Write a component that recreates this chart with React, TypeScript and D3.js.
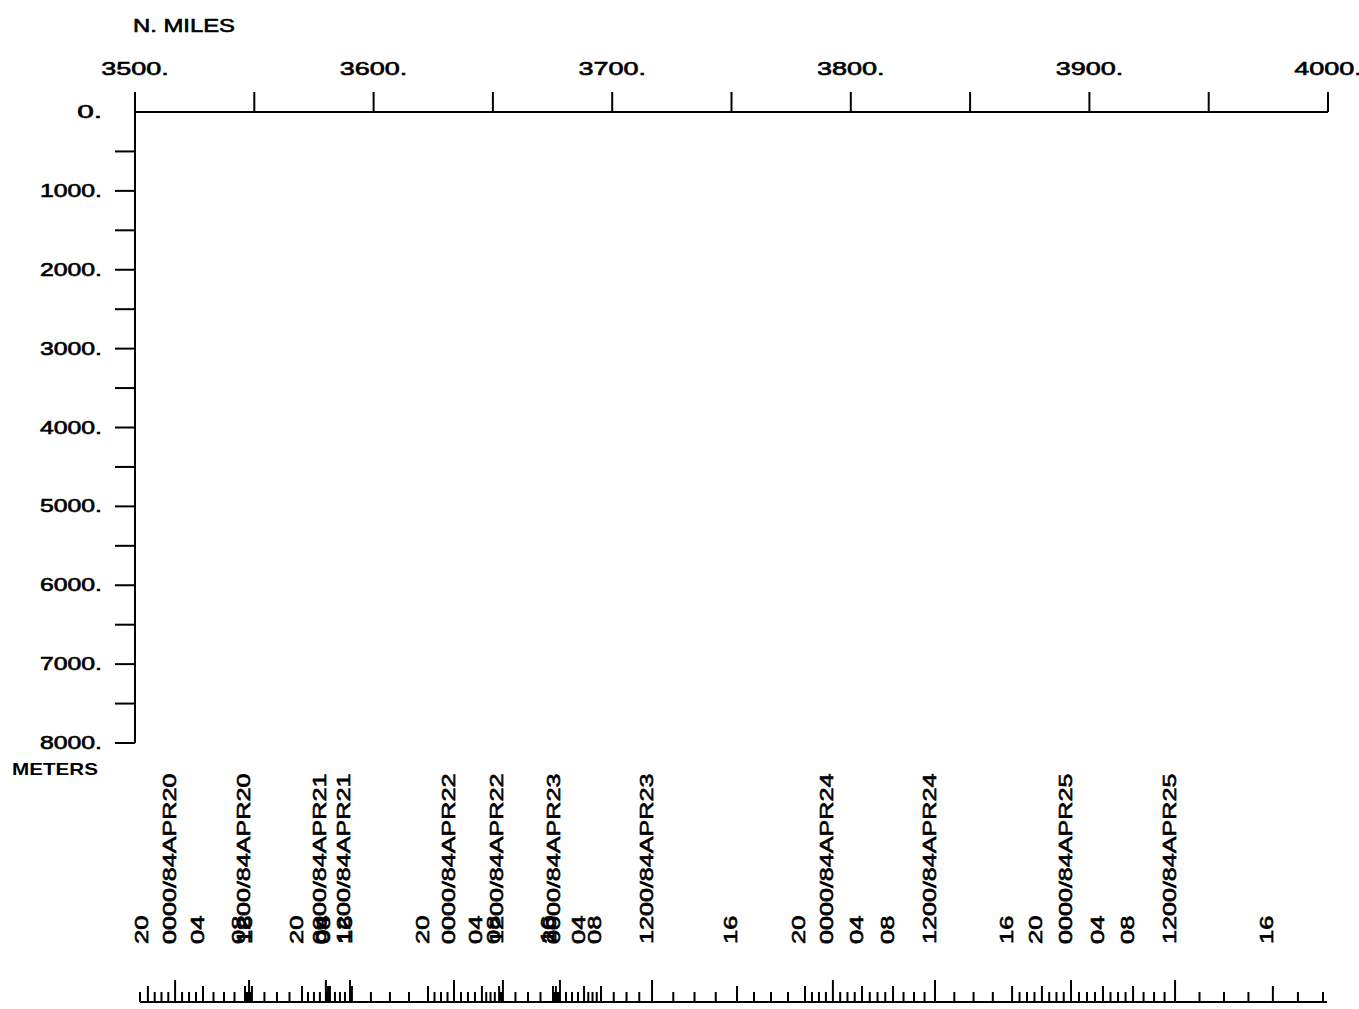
import React from "react";
import * as d3 from "d3";

// Top axis (distance along track, nautical miles)
const milesDomain = [3500, 4000];
const milesMajorTicks = [3500, 3600, 3700, 3800, 3900, 4000];
const milesMinorTicks = [3550, 3650, 3750, 3850, 3950];

// Left axis (depth, meters)
const depthDomain = [0, 8000];
const depthMajorTicks = [0, 1000, 2000, 3000, 4000, 5000, 6000, 7000, 8000];
const depthMinorTicks = [500, 1500, 2500, 3500, 4500, 5500, 6500, 7500];

// Ship track: hours since 0000 APR20 (1984) vs distance along track (N. miles)
const trackHours = [-5, -4, 0, 4, 8, 12, 16, 20, 24, 28, 32, 36, 40, 44, 48, 52, 56, 60, 64, 68, 72, 76, 80, 84, 88, 92, 96, 100, 104, 108, 112, 116, 120, 124, 128, 132, 136, 138];
const trackMiles = [3502.1, 3505.4, 3516.8, 3528.5, 3546.1, 3547.8, 3549.0, 3570.0, 3580.0, 3580.9, 3581.7, 3590.1, 3590.9, 3622.8, 3633.7, 3645.4, 3652.6, 3654.2, 3675.2, 3676.4, 3678.1, 3688.2, 3695.3, 3716.7, 3752.3, 3780.8, 3792.5, 3804.7, 3817.7, 3835.3, 3867.6, 3880.1, 3892.3, 3905.7, 3918.3, 3935.9, 3976.9, 3997.9];

const W = 1359;
const H = 1009;
const FONT = "'Liberation Sans', Arial, sans-serif";

const xScale = d3.scaleLinear().domain(milesDomain).range([135, 1328]);
const yScale = d3.scaleLinear().domain(depthDomain).range([112, 743]);
const timeToMiles = d3.scaleLinear().domain(trackHours).range(trackMiles);

const pad2 = (n: number) => (n < 10 ? "0" + n : "" + n);
function timeLabel(h: number): string {
  const hh = ((h % 24) + 24) % 24;
  const day = 20 + Math.floor(h / 24);
  if (hh % 12 === 0) return `${pad2(hh)}00/84APR${day}`;
  return pad2(hh);
}

export default function App() {
  const axisY = yScale(0);
  const axisX = xScale(3500);
  const tickLen = 20;

  const hours = d3.range(Math.ceil(trackHours[0]), trackHours[trackHours.length - 1] + 1);
  const labelHours = hours.filter((h) => h % 4 === 0);
  const stripY = 1002;
  const textStroke = { stroke: "#000", strokeWidth: 0.6 };

  return (
    <svg
      width={W}
      height={H}
      style={{ position: "absolute", left: 0, top: 0, display: "block", background: "#fff" }}
      fontFamily={FONT}
    >
      <rect x={0} y={0} width={W} height={H} fill="#fff" />
      {/* axis titles */}
      <text x={133} y={32} fontSize={18} textLength={102} lengthAdjust="spacingAndGlyphs" fill="#000" {...textStroke}>
        N. MILES
      </text>
      <text x={12} y={775} fontSize={17} fontWeight="bold" textLength={86} lengthAdjust="spacingAndGlyphs" fill="#000">
        METERS
      </text>

      {/* top axis */}
      <line x1={xScale(3500)} x2={xScale(4000)} y1={axisY} y2={axisY} stroke="#000" strokeWidth={2} />
      {[...milesMajorTicks, ...milesMinorTicks].map((m) => (
        <line key={"tx" + m} x1={xScale(m)} x2={xScale(m)} y1={axisY} y2={axisY - tickLen} stroke="#000" strokeWidth={2} />
      ))}
      {milesMajorTicks.map((m) => {
        const s = m + ".";
        return (
          <text key={"tl" + m} x={xScale(m)} y={75} fontSize={18} textAnchor="middle" textLength={s.length * 13.5} lengthAdjust="spacingAndGlyphs" fill="#000" {...textStroke}>
            {s}
          </text>
        );
      })}

      {/* left axis */}
      <line x1={axisX} x2={axisX} y1={yScale(0)} y2={yScale(8000)} stroke="#000" strokeWidth={2} />
      {[...depthMajorTicks.filter((d) => d > 0), ...depthMinorTicks].map((d) => (
        <line key={"ty" + d} x1={axisX - tickLen} x2={axisX} y1={yScale(d)} y2={yScale(d)} stroke="#000" strokeWidth={2} />
      ))}
      {depthMajorTicks.map((d) => {
        const s = d + ".";
        return (
          <text key={"yl" + d} x={102} y={yScale(d) + 6} fontSize={18} textAnchor="end" textLength={s.length * 12.4} lengthAdjust="spacingAndGlyphs" fill="#000" {...textStroke}>
            {s}
          </text>
        );
      })}

      {/* time labels along track */}
      {labelHours.map((h) => {
        const s = timeLabel(h);
        const px = xScale(timeToMiles(h));
        return (
          <text
            key={"lab" + h}
            transform={`translate(${px + 0.5},${944}) rotate(-90)`}
            fontSize={17.5}
            textLength={s.length * 14.2}
            lengthAdjust="spacingAndGlyphs"
            fill="#000"
            {...textStroke}
          >
            {s}
          </text>
        );
      })}

      {/* hourly tick strip */}
      <line
        x1={xScale(timeToMiles(hours[0]))}
        x2={xScale(timeToMiles(hours[hours.length - 1])) + 4}
        y1={stripY}
        y2={stripY}
        stroke="#000"
        strokeWidth={2}
      />
      {hours.map((h) => {
        const px = xScale(timeToMiles(h));
        const len = h % 12 === 0 ? 22 : h % 4 === 0 ? 16 : 10;
        return <line key={"ht" + h} x1={px} x2={px} y1={stripY} y2={stripY - len} stroke="#000" strokeWidth={2} />;
      })}
    </svg>
  );
}
